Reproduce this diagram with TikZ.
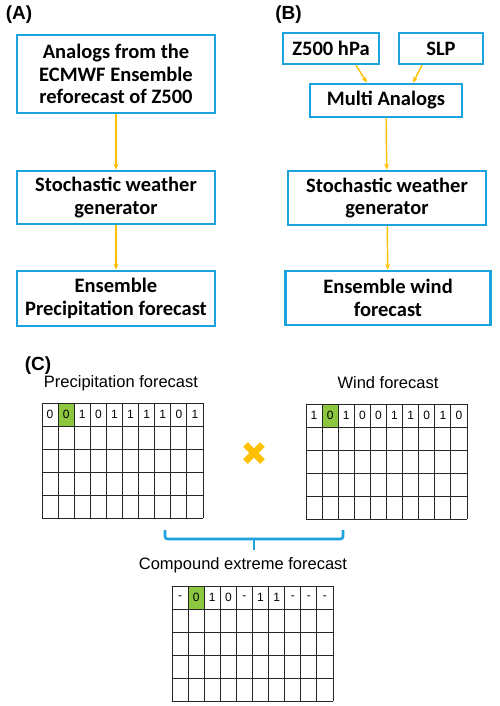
\documentclass[tikz,border=0pt]{standalone}
\usepackage{fontspec}
\setmainfont{Liberation Sans}
\newfontfamily\boxfont{Carlito}
\usetikzlibrary{arrows.meta,calc}
\definecolor{boxblue}{HTML}{1CA2DC}
\definecolor{arrowgold}{HTML}{FFC000}
\definecolor{cellgreen}{HTML}{8DC63F}
\tikzset{
  stepbox/.style={draw=boxblue,line width=2.6pt,fill=white,align=center,inner sep=0pt,
    font=\boxfont\bfseries\fontsize{20.5}{22.5}\selectfont},
  flow/.style={->,draw=arrowgold,line width=1.4pt},
  panel/.style={font=\bfseries\fontsize{19}{22}\selectfont},
  caption/.style={font=\fontsize{16.5}{19}\selectfont},
  digit/.style={font=\fontsize{12}{14}\selectfont,inner sep=0pt},
  gridline/.style={draw=black!85,line width=0.9pt}
}

\begin{document}
\begin{tikzpicture}[x=1pt,y=-1pt,>={Stealth[length=6pt,width=5pt]}]
    \useasboundingbox (0,0) rectangle (500,706);
    % panel (A)
    \node[panel] (labA) at (19,15) {(A)};
    \node[stepbox,minimum width=198pt,minimum height=78pt] (a1) at (116,74)
      {Analogs from the\\ECMWF Ensemble\\reforecast of Z500};
    \node[stepbox,minimum width=198pt,minimum height=53pt] (a2) at (116,197.5)
      {Stochastic weather\\generator};
    \node[stepbox,minimum width=198pt,minimum height=55pt] (a3) at (116,298.5)
      {Ensemble\\Precipitation forecast};
    \draw[flow] (a1) -- (a2);
    \draw[flow] (a2) -- (a3);
    % panel (B)
    \node[panel] (labB) at (288.5,15) {(B)};
    \node[stepbox,minimum width=96pt,minimum height=31pt] (z500) at (331,48.5) {Z500 hPa};
    \node[stepbox,minimum width=84pt,minimum height=31pt] (slp) at (441,48.5) {SLP};
    \node[stepbox,minimum width=152pt,minimum height=33pt] (multi) at (386,100.5) {Multi Analogs};
    \node[stepbox,minimum width=198pt,minimum height=54pt] (b2) at (387,198)
      {Stochastic weather\\generator};
    \node[stepbox,minimum width=205pt,minimum height=54pt] (b3) at (388,298)
      {Ensemble wind\\forecast};
    \draw[flow] ([xshift=25pt]z500.south) -- ([xshift=-19pt]multi.north);
    \draw[flow] ([xshift=-19pt]slp.south) -- ([xshift=27pt]multi.north);
    \draw[flow] (multi) -- (b2);
    \draw[flow] (b2) -- (b3);
    % panel (C)
    \node[panel] (labC) at (38,366) {(C)};
    \node[caption] (precip) at (121,383) {Precipitation forecast};
    \node[caption] (wind) at (388,383) {Wind forecast};
    \node[caption] (compound) at (243,565) {Compound extreme forecast};
    \foreach \gx/\gy/\vals [count=\g] in {42/403/{0,0,1,0,1,1,1,1,0,1},
        306/404/{1,0,1,0,0,1,1,0,1,0},172/586/{-,0,1,0,-,1,1,-,-,-}} {
      \fill[cellgreen] (\gx+16.1,\gy) rectangle (\gx+32.2,\gy+23);
      \foreach \i in {0,...,10} \draw[gridline] (\gx+\i*16.1,\gy) -- ++(0,115);
      \foreach \j in {0,...,5} \draw[gridline] (\gx,\gy+\j*23) -- ++(161,0);
      \foreach \v [count=\i] in \vals
        \node[digit] (d\g-\i) at (\gx+\i*16.1-8.05,\gy+11.5) {\v};
    }
    % cross and brace
    \draw[arrowgold,line width=6.5pt] (245.5,444.5) -- (262.5,461.5);
    \draw[arrowgold,line width=6.5pt] (245.5,461.5) -- (262.5,444.5);
    \draw[boxblue,line width=2.6pt,rounded corners=2.5pt] (165,530) -- (165,539) -- (343,539) -- (343,530);
    \draw[boxblue,line width=2.6pt] (254,539) -- (254,550);
  \end{tikzpicture}
\end{document}
